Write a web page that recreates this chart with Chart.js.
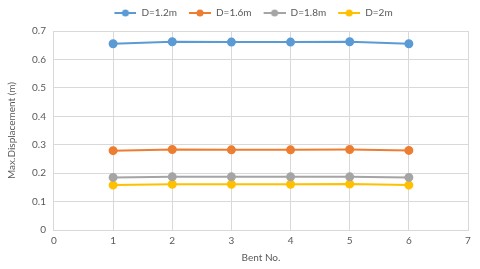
<!DOCTYPE html>
<html>
<head>
<meta charset="utf-8">
<script src="https://cdn.jsdelivr.net/npm/chart.js@4/dist/chart.umd.min.js"></script>
<style>
  html, body { margin: 0; padding: 0; background: #fff; }
  #wrap { width: 480px; height: 269px; }
</style>
</head>
<body>
<div id="wrap"><canvas id="myChart"></canvas></div>
<script>
const bents = [1, 2, 3, 4, 5, 6];
const seriesNames = ['D=1.2m', 'D=1.6m', 'D=1.8m', 'D=2m'];
const d12 = [0.655, 0.662, 0.661, 0.661, 0.662, 0.655];
const d16 = [0.279, 0.283, 0.282, 0.282, 0.283, 0.280];
const d18 = [0.185, 0.187, 0.187, 0.187, 0.187, 0.185];
const d20 = [0.158, 0.161, 0.161, 0.161, 0.162, 0.158];
const colors = ['#5b9bd5', '#ed7d31', '#a5a5a5', '#ffc000'];

const textColor = '#595959';
const gridColor = '#d9d9d9';
const fontFamily = 'Lato, "Open Sans", sans-serif';
const font = { family: fontFamily, size: 10 };

// legend marker: small blank lead-in, then a short line with a dot in the middle
const legendMarker = (color) => {
    const c = document.createElement('canvas');
    c.width = 25; c.height = 8;
    const ctx = c.getContext('2d');
    ctx.strokeStyle = color;
    ctx.lineWidth = 2;
    ctx.beginPath();
    ctx.moveTo(3, 4); ctx.lineTo(25, 4);
    ctx.stroke();
    ctx.fillStyle = color;
    ctx.beginPath();
    ctx.arc(14, 4, 3.5, 0, Math.PI * 2);
    ctx.fill();
    return c;
};

// nudge the legend so it sits where the original one does
const legendShift = {
    id: 'legendShift',
    afterLayout(chart) {
        const lg = chart.legend;
        lg.left += 17; lg.right += 17;
        lg.top -= 3; lg.bottom -= 3;
    }
};

const datasets = [d12, d16, d18, d20].map((values, i) => ({
    label: seriesNames[i],
    data: values.map((v, j) => ({ x: bents[j], y: v })),
    borderColor: colors[i],
    backgroundColor: colors[i],
    borderWidth: 2,
    pointRadius: 3.5,
    pointHoverRadius: 3.5,
    showLine: true,
    tension: 0
}));

new Chart(document.getElementById('myChart'), {
    type: 'scatter',
    data: { datasets: datasets },
    plugins: [legendShift],
    options: {
        responsive: true,
        maintainAspectRatio: false,
        animation: false,
        layout: { padding: { left: 2, right: 12, top: 2, bottom: 5 } },
        plugins: {
            tooltip: { enabled: false },
            legend: {
                position: 'top',
                labels: {
                    usePointStyle: true,
                    pointStyleWidth: 25,
                    color: textColor,
                    font: font,
                    padding: 9,
                    generateLabels: (chart) => chart.data.datasets.map((ds, i) => ({
                        text: ds.label,
                        fontColor: textColor,
                        pointStyle: legendMarker(colors[i]),
                        datasetIndex: i,
                        lineWidth: 0,
                        hidden: false
                    }))
                }
            }
        },
        scales: {
            x: {
                type: 'linear',
                min: 0,
                max: 7,
                ticks: { stepSize: 1, color: textColor, font: font, padding: 5 },
                grid: { color: gridColor, drawTicks: false },
                border: { color: gridColor },
                title: { display: true, text: 'Bent No.', color: textColor, font: font, padding: { top: 0, bottom: 0 } }
            },
            y: {
                min: 0,
                max: 0.7,
                ticks: { stepSize: 0.1, color: textColor, font: font, padding: 8 },
                grid: { color: gridColor, drawTicks: false },
                border: { display: false },
                title: { display: true, text: 'Max.Displacement (m)', color: textColor, font: font, padding: { bottom: 6 } }
            }
        }
    }
});
</script>
</body>
</html>
